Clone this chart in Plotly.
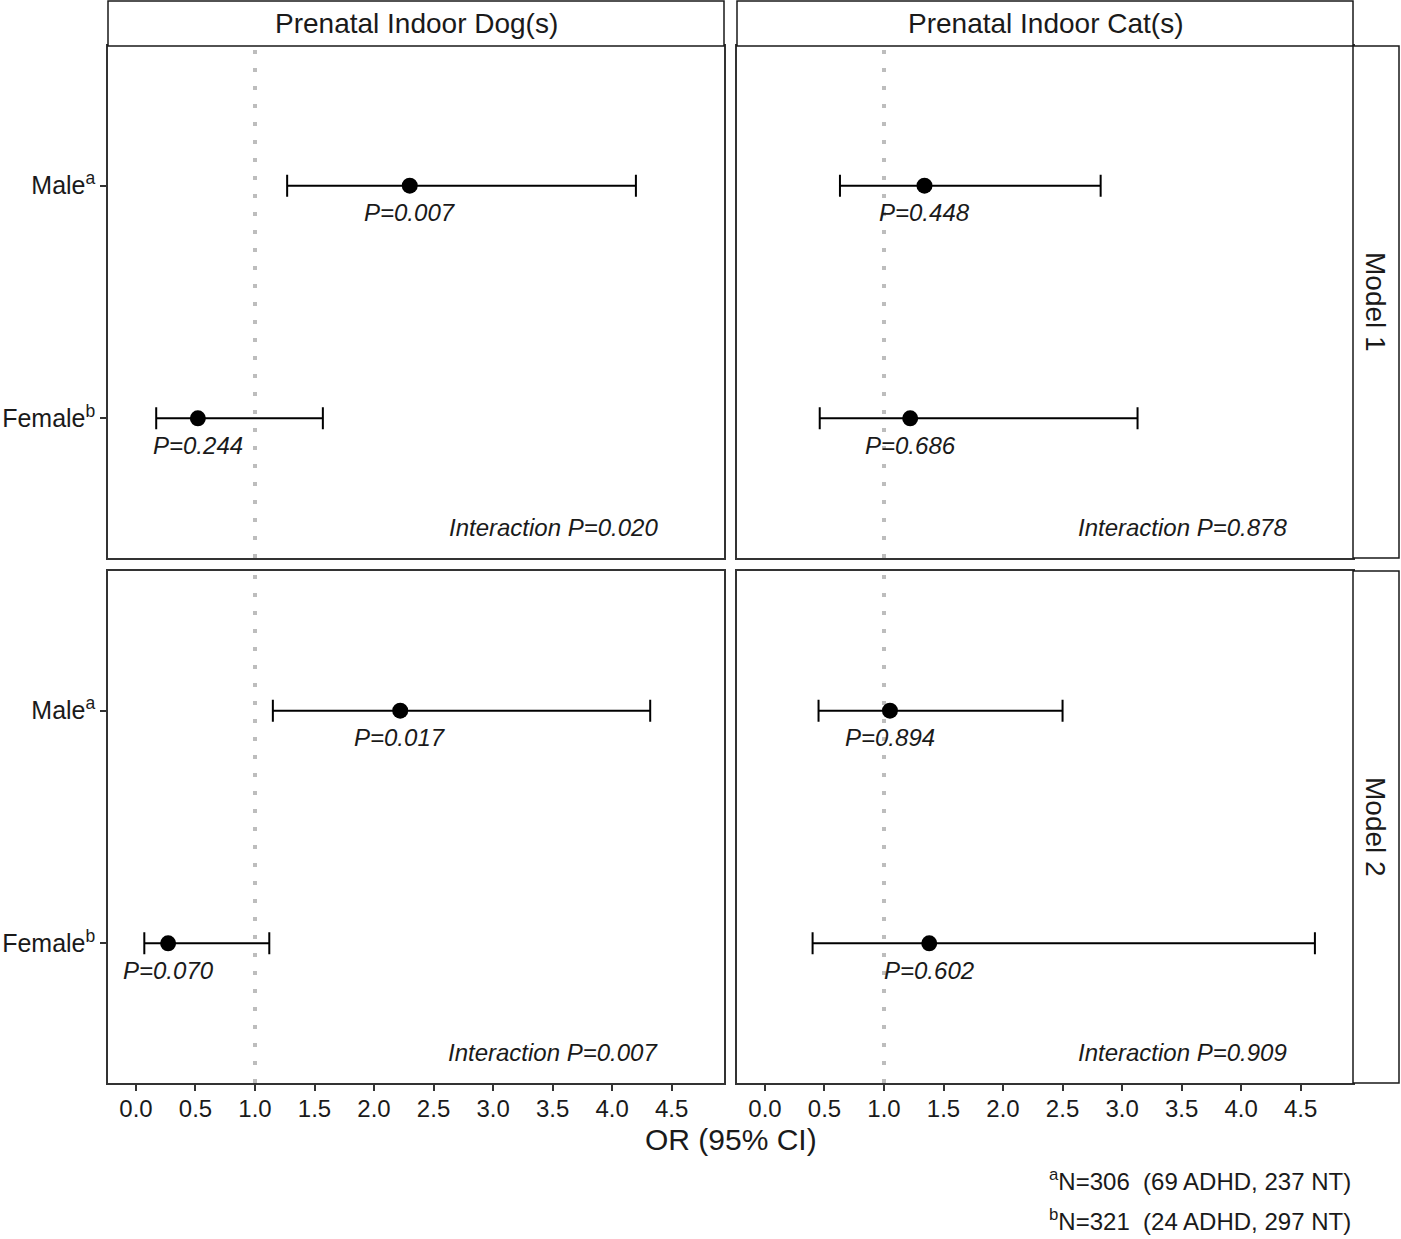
import plotly.graph_objects as go

W, H = 1401, 1239

# ---------------- data ----------------
exposures = ["Prenatal Indoor Dog(s)", "Prenatal Indoor Cat(s)"]
models = ["Model 1", "Model 2"]
sexes = ["Male", "Female"]
sex_ticktext = ["Male<sup>a</sup>", "Female<sup>b</sup>"]

# odds ratios with 95% CI, order [Male, Female]
dog_m1_or = [2.30, 0.52]
dog_m1_lo = [1.27, 0.17]
dog_m1_hi = [4.20, 1.57]
dog_m1_p = ["0.007", "0.244"]

cat_m1_or = [1.34, 1.22]
cat_m1_lo = [0.63, 0.46]
cat_m1_hi = [2.82, 3.13]
cat_m1_p = ["0.448", "0.686"]

dog_m2_or = [2.22, 0.27]
dog_m2_lo = [1.15, 0.07]
dog_m2_hi = [4.32, 1.12]
dog_m2_p = ["0.017", "0.070"]

cat_m2_or = [1.05, 1.38]
cat_m2_lo = [0.45, 0.40]
cat_m2_hi = [2.50, 4.62]
cat_m2_p = ["0.894", "0.602"]

interaction_p = ["0.020", "0.878", "0.007", "0.909"]  # dog M1, cat M1, dog M2, cat M2

x_ticks = [0.0, 0.5, 1.0, 1.5, 2.0, 2.5, 3.0, 3.5, 4.0, 4.5]
ref_line = 1.0

foot_sup = ["a", "b"]
foot_n = [306, 321]
foot_adhd = [69, 24]
foot_nt = [237, 297]

# ---------------- layout ----------------
FONT = "Liberation Sans, Arial, sans-serif"
BORDER = "#333333"

panels = [
    (dog_m1_or, dog_m1_lo, dog_m1_hi, dog_m1_p),
    (cat_m1_or, cat_m1_lo, cat_m1_hi, cat_m1_p),
    (dog_m2_or, dog_m2_lo, dog_m2_hi, dog_m2_p),
    (cat_m2_or, cat_m2_lo, cat_m2_hi, cat_m2_p),
]

col_px = [(108, 724), (737, 1353)]
row_px = [(46, 558), (571, 1083)]


def px_x(p):
    return p / W


def px_y(p):
    return 1 - p / H


cat_order = ["Female", "Male"]

fig = go.Figure()
layout = dict(
    width=W, height=H, autosize=False,
    margin=dict(l=0, r=0, t=0, b=0),
    paper_bgcolor="white", plot_bgcolor="white",
    showlegend=False,
    font=dict(family=FONT, size=24, color="#1a1a1a"),
)
shapes = []
annotations = []

for i, (orv, lo, hi, pv) in enumerate(panels):
    r, c = divmod(i, 2)
    k = i + 1
    xa = "x" if k == 1 else f"x{k}"
    ya = "y" if k == 1 else f"y{k}"
    xname = "xaxis" if k == 1 else f"xaxis{k}"
    yname = "yaxis" if k == 1 else f"yaxis{k}"

    fig.add_trace(go.Scatter(
        x=orv, y=sexes, xaxis=xa, yaxis=ya, mode="markers",
        marker=dict(size=16, color="black"),
        error_x=dict(type="data", symmetric=False,
                     array=[h - o for h, o in zip(hi, orv)],
                     arrayminus=[o - l for o, l in zip(orv, lo)],
                     color="black", thickness=2, width=11),
        hoverinfo="skip",
    ))

    bottom = r == 1
    left = c == 0
    layout[xname] = dict(
        domain=[px_x(col_px[c][0]), px_x(col_px[c][1])],
        anchor=ya, range=[-0.235, 4.94],
        tickmode="array", tickvals=x_ticks,
        ticktext=[f"{t:.1f}" for t in x_ticks],
        showticklabels=bottom, ticks="outside" if bottom else "",
        ticklen=6, tickwidth=1.5, tickcolor=BORDER,
        ticklabelstandoff=-3,
        tickfont=dict(family=FONT, size=24, color="#1a1a1a"),
        showline=True, mirror=True, linecolor=BORDER, linewidth=1.5,
        showgrid=False, zeroline=False, fixedrange=True,
    )
    layout[yname] = dict(
        domain=[px_y(row_px[r][1]), px_y(row_px[r][0])],
        anchor=xa, type="category", categoryorder="array",
        categoryarray=cat_order, range=[-0.6, 1.6],
        tickmode="array", tickvals=sexes, ticktext=sex_ticktext,
        showticklabels=left, ticks="outside" if left else "",
        ticklen=6, tickwidth=1.5, tickcolor=BORDER,
        tickfont=dict(family=FONT, size=25, color="#1a1a1a"),
        showline=True, mirror=True, linecolor=BORDER, linewidth=1.5,
        showgrid=False, zeroline=False, fixedrange=True,
    )

    # reference line at OR = 1
    shapes.append(dict(type="line", xref=xa, yref=f"{ya} domain",
                       x0=ref_line, x1=ref_line, y0=0, y1=1, layer="below",
                       line=dict(color="#bdbdbd", width=4, dash="4px,14px")))

    # P labels
    for s, o, p in zip(sexes, orv, pv):
        annotations.append(dict(
            xref=xa, yref=ya, x=o, y=cat_order.index(s), yshift=-27,
            text=f"<i>P={p}</i>", showarrow=False,
            xanchor="center", yanchor="middle",
            font=dict(family=FONT, size=24, color="#1a1a1a")))

    # interaction label
    annotations.append(dict(
        xref=xa, yref=ya, x=4.4, y=-0.47,
        text=f"<i>Interaction P={interaction_p[i]}</i>", showarrow=False,
        xanchor="right", yanchor="middle",
        font=dict(family=FONT, size=24, color="#1a1a1a")))

# top strips
for c, name in enumerate(exposures):
    x0, x1 = col_px[c]
    shapes.append(dict(type="rect", xref="paper", yref="paper",
                       x0=px_x(x0), x1=px_x(x1), y0=px_y(46), y1=px_y(1),
                       fillcolor="white", line=dict(color="#1a1a1a", width=1.5)))
    annotations.append(dict(xref="paper", yref="paper",
                            x=px_x((x0 + x1) / 2), y=px_y(24), text=name,
                            showarrow=False, xanchor="center", yanchor="middle",
                            font=dict(family=FONT, size=28, color="#1a1a1a")))

# right strips
for r, name in enumerate(models):
    y0, y1 = row_px[r]
    shapes.append(dict(type="rect", xref="paper", yref="paper",
                       x0=px_x(1353), x1=px_x(1399), y0=px_y(y1), y1=px_y(y0),
                       fillcolor="white", line=dict(color="#1a1a1a", width=1.5)))
    annotations.append(dict(xref="paper", yref="paper",
                            x=px_x(1376), y=px_y((y0 + y1) / 2), text=name,
                            textangle=90, showarrow=False,
                            xanchor="center", yanchor="middle",
                            font=dict(family=FONT, size=28, color="#1a1a1a")))

# axis title
annotations.append(dict(xref="paper", yref="paper", x=px_x(731), y=px_y(1139),
                        text="OR (95% CI)", showarrow=False,
                        xanchor="center", yanchor="middle",
                        font=dict(family=FONT, size=30, color="#1a1a1a")))

# footnotes
for j in range(2):
    txt = (f"<sup>{foot_sup[j]}</sup>N={foot_n[j]}\u00a0\u00a0"
           f"({foot_adhd[j]} ADHD, {foot_nt[j]} NT)")
    annotations.append(dict(xref="paper", yref="paper", x=px_x(1353),
                            y=px_y(1180 + 40 * j), text=txt, showarrow=False,
                            xanchor="right", yanchor="middle",
                            font=dict(family=FONT, size=24, color="#1a1a1a")))

layout["shapes"] = shapes
layout["annotations"] = annotations
fig.update_layout(**layout)
fig.write_html(
    "out.html",
    config={"displayModeBar": False},
    post_script="document.body.style.margin='0px';document.body.style.overflow='hidden';",
)
